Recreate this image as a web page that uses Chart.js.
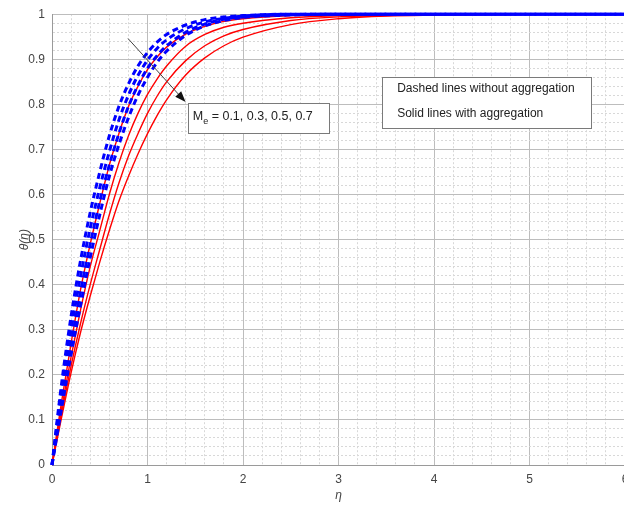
<!DOCTYPE html>
<html>
<head>
<meta charset="utf-8">
<script src="https://cdn.jsdelivr.net/npm/chart.js@4.4.1/dist/chart.umd.min.js"></script>
<style>
  html, body { margin: 0; padding: 0; background: #fff; overflow: hidden; }
  #wrap { width: 640px; height: 506px; }
</style>
</head>
<body>
<div id="wrap"><canvas id="thetaChart" width="640" height="506"></canvas></div>
<script>
// eta grid and theta(eta)
const etaValues = [0, 0.1, 0.2, 0.3, 0.4, 0.5, 0.6, 0.7, 0.8, 0.9, 1.0, 1.1, 1.2, 1.4, 1.6, 1.8, 2.0, 2.5, 3.0, 3.5, 4.0, 5.0, 6.0];

// solid red: with aggregation, Me = 0.1, 0.3, 0.5, 0.7
const withAggMe01 = [0, 0.14, 0.27, 0.39, 0.49, 0.58, 0.665, 0.735, 0.795, 0.84, 0.877, 0.905, 0.927, 0.956, 0.973, 0.984, 0.99, 0.997, 0.999, 1, 1, 1, 1];
const withAggMe03 = [0, 0.125, 0.24, 0.345, 0.44, 0.52, 0.6, 0.67, 0.73, 0.78, 0.822, 0.856, 0.885, 0.929, 0.955, 0.971, 0.98, 0.992, 0.997, 0.999, 1, 1, 1];
const withAggMe05 = [0, 0.115, 0.22, 0.315, 0.4, 0.478, 0.555, 0.625, 0.685, 0.735, 0.78, 0.818, 0.85, 0.897, 0.93, 0.952, 0.966, 0.986, 0.994, 0.997, 0.999, 1, 1];
const withAggMe07 = [0, 0.105, 0.205, 0.295, 0.375, 0.45, 0.52, 0.585, 0.64, 0.69, 0.735, 0.775, 0.81, 0.865, 0.903, 0.93, 0.949, 0.977, 0.99, 0.996, 0.998, 1, 1];

// dashed blue: without aggregation, Me = 0.1, 0.3, 0.5, 0.7
const withoutAggMe01 = [0, 0.18, 0.33, 0.455, 0.56, 0.65, 0.73, 0.795, 0.845, 0.885, 0.915, 0.938, 0.955, 0.976, 0.988, 0.994, 0.997, 1, 1, 1, 1, 1, 1];
const withoutAggMe03 = [0, 0.165, 0.3, 0.42, 0.525, 0.615, 0.695, 0.765, 0.82, 0.864, 0.898, 0.924, 0.943, 0.968, 0.983, 0.991, 0.996, 1, 1, 1, 1, 1, 1];
const withoutAggMe05 = [0, 0.145, 0.27, 0.385, 0.49, 0.585, 0.665, 0.735, 0.795, 0.842, 0.88, 0.908, 0.93, 0.96, 0.978, 0.989, 0.994, 0.999, 1, 1, 1, 1, 1];
const withoutAggMe07 = [0, 0.125, 0.245, 0.355, 0.46, 0.555, 0.64, 0.71, 0.77, 0.82, 0.86, 0.893, 0.918, 0.953, 0.974, 0.986, 0.993, 0.998, 1, 1, 1, 1, 1];

const xTickLabels = ['0', '1', '2', '3', '4', '5', '6'];
const yTickLabels = ['0', '0.1', '0.2', '0.3', '0.4', '0.5', '0.6', '0.7', '0.8', '0.9', '1'];

const FONT = '"Liberation Sans", Arial, Helvetica, sans-serif';

function points(series) {
    return etaValues.map((x, i) => ({ x: x, y: series[i] }));
}

function dashed(series) {
    return {
        data: points(series),
        borderColor: '#0000ff',
        borderWidth: 3,
        borderDash: [6, 4],
        pointRadius: 0,
        cubicInterpolationMode: 'monotone',
        clip: false
    };
}

function solid(series) {
    return {
        data: points(series),
        borderColor: '#ff0000',
        borderWidth: 1.4,
        pointRadius: 0,
        cubicInterpolationMode: 'monotone',
        clip: false
    };
}

// major every 1 (x) / 0.1 (y), minor grid in between
const isMajor = (v, per) => Math.abs(v * per - Math.round(v * per)) < 1e-6;

function gridColor(per) {
    return ctx => (ctx.tick && isMajor(ctx.tick.value, per)) ? '#bdbdbd' : '#d8d8d8';
}
function gridDash(per) {
    return ctx => (ctx.tick && !isMajor(ctx.tick.value, per)) ? [2, 2] : [];
}

const notesPlugin = {
    id: 'notes',
    afterDatasetsDraw(chart) {
        const { ctx, scales: { x, y } } = chart;
        const px = v => x.getPixelForValue(v);
        const py = v => y.getPixelForValue(v);
        ctx.save();

        // arrow across the curves
        const x1 = px(0.796), y1 = py(0.946), x2 = px(1.399), y2 = py(0.805);
        const ang = Math.atan2(y2 - y1, x2 - x1);
        const len = 11, half = 4;
        ctx.strokeStyle = '#404040';
        ctx.lineWidth = 1;
        ctx.beginPath();
        ctx.moveTo(x1, y1);
        ctx.lineTo(x2 - len * Math.cos(ang), y2 - len * Math.sin(ang));
        ctx.stroke();
        ctx.fillStyle = '#111';
        ctx.beginPath();
        ctx.moveTo(x2, y2);
        ctx.lineTo(x2 - len * Math.cos(ang) + half * Math.sin(ang), y2 - len * Math.sin(ang) - half * Math.cos(ang));
        ctx.lineTo(x2 - len * Math.cos(ang) - half * Math.sin(ang), y2 - len * Math.sin(ang) + half * Math.cos(ang));
        ctx.closePath();
        ctx.fill();

        // boxes
        function box(l, t, r, b) {
            const L = Math.round(px(l)) + 0.5, T = Math.round(py(t)) + 0.5;
            const R = Math.round(px(r)) + 0.5, B = Math.round(py(b)) + 0.5;
            ctx.fillStyle = '#fff';
            ctx.fillRect(L, T, R - L, B - T);
            ctx.strokeStyle = '#7a7a7a';
            ctx.lineWidth = 1;
            ctx.strokeRect(L, T, R - L, B - T);
        }

        ctx.textBaseline = 'alphabetic';
        ctx.textAlign = 'left';

        // Me label
        box(1.422, 0.802, 2.901, 0.7355);
        let tx = px(1.474);
        const ty = py(0.765);
        ctx.fillStyle = '#222';
        ctx.font = '12.5px ' + FONT;
        ctx.fillText('M', tx, ty);
        tx += ctx.measureText('M').width;
        ctx.font = '9px ' + FONT;
        ctx.fillText('e', tx, ty + 4);
        tx += ctx.measureText('e').width;
        ctx.font = '12.5px ' + FONT;
        ctx.fillText(' = 0.1, 0.3, 0.5, 0.7', tx, ty);

        // line style note
        box(3.457, 0.861, 5.642, 0.7466);
        ctx.font = '12px ' + FONT;
        ctx.fillStyle = '#222';
        ctx.fillText('Dashed lines without aggregation', px(3.614), py(0.8264));
        ctx.fillText('Solid lines with aggregation', px(3.614), py(0.7723));

        ctx.restore();
    }
};

const chart = new Chart(document.getElementById('thetaChart').getContext('2d'), {
    type: 'line',
    data: {
        datasets: [
            dashed(withoutAggMe01),
            dashed(withoutAggMe03),
            dashed(withoutAggMe05),
            dashed(withoutAggMe07),
            solid(withAggMe01),
            solid(withAggMe03),
            solid(withAggMe05),
            solid(withAggMe07)
        ]
    },
    options: {
        responsive: false,
        animation: false,
        devicePixelRatio: 1,
        layout: { padding: { top: 14, right: 15, left: 0, bottom: 0 } },
        plugins: {
            legend: { display: false },
            tooltip: { enabled: false }
        },
        scales: {
            x: {
                type: 'linear',
                min: 0,
                max: 6,
                afterFit: s => { s.height = 41; },
                ticks: {
                    stepSize: 0.2,
                    autoSkip: false,
                    maxRotation: 0,
                    padding: 7,
                    color: '#444',
                    font: { family: FONT, size: 12 },
                    callback: v => isMajor(v, 1) ? xTickLabels[Math.round(v)] : ''
                },
                grid: { color: gridColor(1), lineWidth: 1, drawTicks: false },
                border: { color: '#9a9a9a', width: 1, dash: gridDash(1) },
                title: {
                    display: true,
                    text: 'η',
                    color: '#444',
                    font: { family: FONT, size: 12, style: 'italic' },
                    padding: { top: 0, bottom: 3 }
                }
            },
            y: {
                type: 'linear',
                min: 0,
                max: 1,
                afterFit: s => { s.width = 52; },
                ticks: {
                    stepSize: 0.02,
                    autoSkip: false,
                    padding: 7,
                    color: '#444',
                    font: { family: FONT, size: 12 },
                    callback: v => isMajor(v, 10) ? yTickLabels[Math.round(v * 10)] : ''
                },
                grid: { color: gridColor(10), lineWidth: 1, drawTicks: false },
                border: { color: '#9a9a9a', width: 1, dash: gridDash(10) },
                title: {
                    display: true,
                    text: 'θ(η)',
                    color: '#444',
                    font: { family: FONT, size: 12, style: 'italic' },
                    padding: { top: 17, bottom: 0 }
                }
            }
        }
    },
    plugins: [notesPlugin]
});
</script>
</body>
</html>
